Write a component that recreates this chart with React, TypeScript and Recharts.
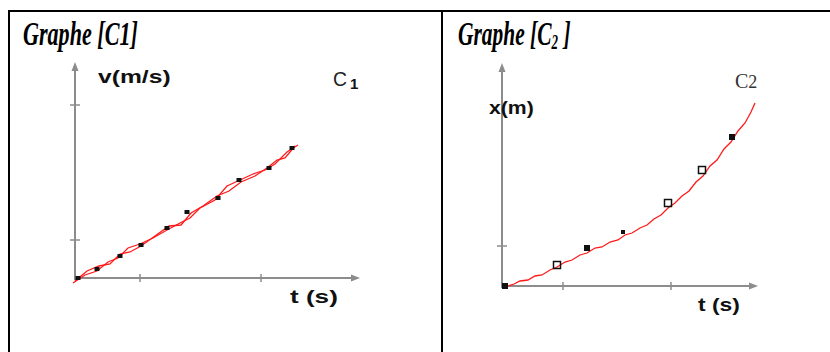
import { ComposedChart, Line, Scatter, XAxis, YAxis, ReferenceLine } from 'recharts';

// Graphe C1 : v(m/s) = f(t), deux tracés rouges quasi superposés
const c1TraceA: [number, number][] = [
  [-0.2, -0.5], [1.0, 0.3], [2.2, 0.7], [3.3, 1.6], [4.3, 2.0], [5.3, 3.0], [6.5, 3.4],
  [7.8, 4.0], [9.2, 4.8], [10.5, 5.5], [11.5, 6.0], [12.5, 7.0], [14.0, 7.8], [15.2, 9.2],
  [16.5, 9.8], [17.8, 10.4], [19.0, 10.8], [20.0, 11.4], [21.2, 12.6], [22.3, 13.3],
];
const c1TraceB: [number, number][] = [
  [0.0, -0.3], [1.2, 0.7], [2.4, 1.2], [3.5, 1.4], [4.5, 2.4], [5.5, 2.6], [6.6, 3.2],
  [8.0, 4.2], [9.4, 5.2], [10.6, 5.3], [11.6, 6.5], [12.8, 7.2], [14.2, 8.2], [15.4, 8.7],
  [16.6, 9.6], [18.0, 10.2], [19.2, 11.0], [20.2, 11.8], [21.0, 12.0], [22.0, 13.2],
];
const c1Points: [number, number][] = [
  [0.3, 0.0], [2.2, 0.9], [4.5, 2.2], [6.6, 3.3], [9.2, 5.0], [11.2, 6.6],
  [14.3, 8.0], [16.4, 9.8], [19.4, 11.0], [21.7, 13.0],
];
const c1TicksT = [6.5, 18.6];
const c1TicksV = [3.8, 17.3];

// Graphe C2 : x(m) = f(t)
const c2Trace: [number, number][] = [
  [0.3, -0.1], [1.2, 0.2], [1.8, 0.5], [2.6, 0.6], [3.3, 1.0], [4.0, 1.1], [4.8, 1.6],
  [5.5, 1.9], [6.3, 2.4], [7.0, 2.6], [7.8, 3.1], [8.5, 3.3], [9.3, 3.8], [10.0, 3.9],
  [10.8, 4.4], [11.6, 4.6], [12.3, 5.1], [13.0, 5.3], [13.8, 5.8], [14.5, 6.1], [15.2, 6.7],
  [15.9, 7.1], [16.6, 7.8], [17.3, 8.3], [18.0, 9.0], [18.7, 9.5], [19.4, 10.4], [20.1, 11.0],
  [20.8, 12.0], [21.5, 12.6], [22.2, 13.7], [22.9, 14.4], [23.6, 15.5], [24.3, 16.3],
  [24.9, 17.4], [25.3, 18.3],
];
const c2Points: [number, number][] = [
  [0.3, 0.0], [5.5, 2.1], [8.5, 3.8], [12.1, 5.4], [16.6, 8.3], [20.0, 11.6], [23.0, 14.9],
];
const c2Marks = ['fill', 'open', 'fill', 'dot', 'open', 'open', 'fill'];
const c2TicksT = [6.1, 16.9];
const c2TicksX = [4.0];

const toRows = (pts: [number, number][]) => pts.map(([t, v]) => ({ t, v }));

const AXIS = '#8c8c8c';
const RED = '#ff1a1a';
const SANS = "'Liberation Sans', Arial, sans-serif";
const SERIF = "'Liberation Serif', serif";

function ArrowLine(props: any) {
  const { x1, y1, x2, y2 } = props;
  const dx = x2 - x1;
  const dy = y2 - y1;
  const len = Math.hypot(dx, dy) || 1;
  const ux = dx / len;
  const uy = dy / len;
  const bx = x2 - ux * 9;
  const by = y2 - uy * 9;
  return (
    <g>
      <line x1={x1} y1={y1} x2={bx} y2={by} stroke={AXIS} strokeWidth={2} />
      <polygon
        points={`${x2},${y2} ${bx - uy * 3.5},${by + ux * 3.5} ${bx + uy * 3.5},${by - ux * 3.5}`}
        fill={AXIS}
      />
    </g>
  );
}

function BlobDot(props: any) {
  const { cx, cy } = props;
  return <rect x={cx - 2.5} y={cy - 2} width={5} height={4} fill="#111" />;
}

function SquareDot(props: any) {
  const { cx, cy, payload } = props;
  if (payload.kind === 'dot') return <rect x={cx - 2} y={cy - 2} width={4} height={4} fill="#111" />;
  if (payload.kind === 'open')
    return <rect x={cx - 3.5} y={cy - 3.5} width={7} height={7} fill="none" stroke="#111" strokeWidth={1.5} />;
  return <rect x={cx - 3} y={cy - 3} width={6} height={6} fill="#111" />;
}

// texte gras étiré horizontalement, comme dans la capture
function Wide({ x, y, sx, size, children }: { x: number; y: number; sx: number; size: number; children: string }) {
  return (
    <text transform={`translate(${x},${y}) scale(${sx},1)`} fontFamily={SANS} fontWeight="bold" fontSize={size} fill="#111">
      {children}
    </text>
  );
}

export default function App() {
  const c2Rows = c2Points.map(([t, v], i) => ({ t, v, kind: c2Marks[i] }));
  return (
    <div style={{ position: 'fixed', left: 0, top: 0, width: 830, height: 352, background: '#fff', overflow: 'hidden' }}>
      {/* cadre du tableau */}
      <div style={{ position: 'absolute', left: 8, top: 10, width: 822, height: 2, background: '#000' }} />
      <div style={{ position: 'absolute', left: 8, top: 10, width: 2, height: 342, background: '#000' }} />
      <div style={{ position: 'absolute', left: 441, top: 10, width: 2, height: 342, background: '#000' }} />

      <div style={{ position: 'absolute', left: 0, top: 0 }}>
        <ComposedChart width={440} height={352} margin={{ top: 62, right: 80, bottom: 64, left: 65 }}>
          <XAxis type="number" dataKey="t" domain={[-1, 28.5]} allowDataOverflow hide />
          <YAxis type="number" dataKey="v" domain={[-1, 21.6]} allowDataOverflow hide />
          <ReferenceLine segment={[{ x: 0, y: 0 }, { x: 28.5, y: 0 }]} shape={ArrowLine} ifOverflow="visible" />
          <ReferenceLine segment={[{ x: 0, y: -0.2 }, { x: 0, y: 21.6 }]} shape={ArrowLine} ifOverflow="visible" />
          {c1TicksT.map((t) => (
            <ReferenceLine key={`t${t}`} segment={[{ x: t, y: -0.4 }, { x: t, y: 0.4 }]} stroke={AXIS} strokeWidth={1.5} ifOverflow="visible" />
          ))}
          {c1TicksV.map((v) => (
            <ReferenceLine key={`v${v}`} segment={[{ x: -0.5, y: v }, { x: 0.5, y: v }]} stroke={AXIS} strokeWidth={1.5} ifOverflow="visible" />
          ))}
          <Scatter data={toRows(c1Points)} dataKey="v" shape={BlobDot} isAnimationActive={false} />
          <Line data={toRows(c1TraceA)} dataKey="v" stroke={RED} strokeWidth={1.3} dot={false} isAnimationActive={false} />
          <Line data={toRows(c1TraceB)} dataKey="v" stroke={RED} strokeWidth={1.3} dot={false} isAnimationActive={false} />
        </ComposedChart>
      </div>

      <div style={{ position: 'absolute', left: 441, top: 0 }}>
        <ComposedChart width={389} height={352} margin={{ top: 63, right: 72, bottom: 56, left: 51 }}>
          <XAxis type="number" dataKey="t" domain={[-1, 25.6]} allowDataOverflow hide />
          <YAxis type="number" dataKey="v" domain={[-1, 22.3]} allowDataOverflow hide />
          <ReferenceLine segment={[{ x: 0, y: 0 }, { x: 25.6, y: 0 }]} shape={ArrowLine} ifOverflow="visible" />
          <ReferenceLine segment={[{ x: 0, y: -0.2 }, { x: 0, y: 22.3 }]} shape={ArrowLine} ifOverflow="visible" />
          {c2TicksT.map((t) => (
            <ReferenceLine key={`t${t}`} segment={[{ x: t, y: -0.4 }, { x: t, y: 0.4 }]} stroke={AXIS} strokeWidth={1.5} ifOverflow="visible" />
          ))}
          {c2TicksX.map((v) => (
            <ReferenceLine key={`x${v}`} segment={[{ x: -0.5, y: v }, { x: 0.5, y: v }]} stroke={AXIS} strokeWidth={1.5} ifOverflow="visible" />
          ))}
          <Line data={toRows(c2Trace)} dataKey="v" stroke={RED} strokeWidth={1.3} dot={false} isAnimationActive={false} />
          <Scatter data={c2Rows} dataKey="v" shape={SquareDot} isAnimationActive={false} />
        </ComposedChart>
      </div>

      <svg width={830} height={352} style={{ position: 'absolute', left: 0, top: 0, pointerEvents: 'none' }}>
        <g fontFamily={SERIF} fontStyle="italic" fontWeight="bold" fontSize={33} fill="#000">
          <text transform="translate(23,45) scale(0.67,1)">Graphe [C1]</text>
          <text transform="translate(458,45) scale(0.65,1)">
            Graphe [C<tspan fontSize={20} dy={4}>2</tspan><tspan dy={-4}>{'\u00a0]'}</tspan>
          </text>
        </g>
        <Wide x={98} y={83} sx={1.37} size={18}>v(m/s)</Wide>
        <Wide x={290} y={303} sx={1.45} size={18}>t (s)</Wide>
        <Wide x={489} y={114} sx={1.18} size={18}>x(m)</Wide>
        <Wide x={698} y={311} sx={1.27} size={18}>t (s)</Wide>
        <text x={333} y={86} fontFamily={SANS} fontSize={21} fill="#222" textLength={14} lengthAdjust="spacingAndGlyphs">C</text>
        <text x={350} y={89} fontFamily={SANS} fontWeight="bold" fontSize={15} fill="#111">1</text>
        <text x={735} y={88} fontFamily={SERIF} fontSize={20} fill="#333">
          C<tspan fontSize={18}>2</tspan>
        </text>
      </svg>
    </div>
  );
}
